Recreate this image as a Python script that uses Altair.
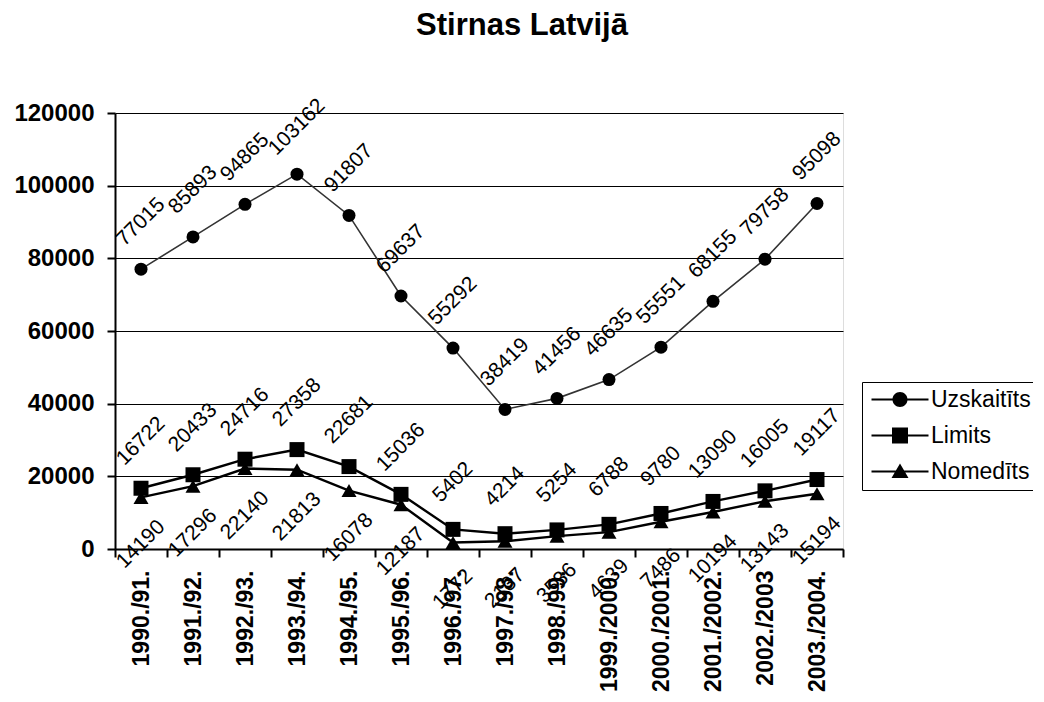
import altair as alt
import pandas as pd

seasons = ["1990./91.", "1991./92.", "1992./93.", "1993./94.", "1994./95.",
           "1995./96.", "1996./97.", "1997./98.", "1998./99.", "1999./2000.",
           "2000./2001.", "2001./2002.", "2002./2003", "2003./2004."]
uzskaitits = [77015, 85893, 94865, 103162, 91807, 69637, 55292, 38419,
              41456, 46635, 55551, 68155, 79758, 95098]
limits = [16722, 20433, 24716, 27358, 22681, 15036, 5402, 4214,
          5254, 6788, 9780, 13090, 16005, 19117]
nomedits = [14190, 17296, 22140, 21813, 16078, 12187, 1772, 2137,
            3536, 4639, 7486, 10194, 13143, 15194]
series_names = ["Uzskaitīts", "Limits", "Nomedīts"]
y_ticks = [0, 20000, 40000, 60000, 80000, 100000, 120000]

rows = []
for name, vals in zip(series_names, [uzskaitits, limits, nomedits]):
    for s, v in zip(seasons, vals):
        rows.append({"season": s, "value": v, "series": name})
df = pd.DataFrame(rows)

FONT = "Liberation Sans"

x_enc = alt.X("season:N", sort=seasons, bandPosition=0.5,
              scale=alt.Scale(type="band", paddingInner=0, paddingOuter=0),
              axis=alt.Axis(title=None, labelAngle=270, labelFont=FONT,
                            labelFontSize=23, labelFontWeight="bold",
                            labelColor="black", labelPadding=13,
                            tickBand="extent", tickSize=8, tickColor="black",
                            tickWidth=2, domainColor="black", domainWidth=2,
                            grid=False, labelOverlap=False))
y_enc = alt.Y("value:Q", scale=alt.Scale(domain=[0, 120000], nice=False),
              axis=alt.Axis(title=None, values=y_ticks, format="d",
                            labelFont=FONT, labelFontSize=24,
                            labelFontWeight="bold", labelColor="black",
                            labelPadding=13, tickSize=8, tickColor="black",
                            tickWidth=2, domainColor="black", domainWidth=2,
                            grid=True, gridColor="black", gridWidth=1))

base = alt.Chart(df).encode(x=x_enc, y=y_enc)

lines = base.mark_line().encode(
    detail="series:N",
    color=alt.condition("datum.series == 'Uzskaitīts'", alt.value("#333333"), alt.value("black")),
    strokeWidth=alt.condition("datum.series == 'Uzskaitīts'", alt.value(1.6), alt.value(2.4)),
)

points = base.mark_point(filled=True, opacity=1, color="black").encode(
    shape=alt.Shape("series:N",
                    scale=alt.Scale(domain=series_names,
                                    range=["circle", "square", "triangle-up"]),
                    legend=None),
    size=alt.condition("datum.series == 'Uzskaitīts'", alt.value(169), alt.value(225)),
)

labels_up = base.transform_filter("datum.series != 'Nomedīts'").mark_text(
    angle=315, radius=47, theta=0, align="center", baseline="middle",
    font=FONT, fontSize=21, color="black"
).encode(text=alt.Text("value:Q", format="d"))

labels_down = base.transform_filter("datum.series == 'Nomedīts'").mark_text(
    angle=315, radius=47, theta=3.14159, align="center", baseline="middle",
    font=FONT, fontSize=21, color="black"
).encode(text=alt.Text("value:Q", format="d"))

# legend symbols: a line with the marker in its middle (unit = 10 px)
seg = "M-0.8,-0.1H4.9V0.1H-0.8Z"
legend_paths = [
    seg + " M1.3,0A0.75,0.75 0 1,1 2.8,0A0.75,0.75 0 1,1 1.3,0Z",
    seg + " M1.25,-0.8H2.85V0.8H1.25Z",
    seg + " M2.05,-0.8L2.9,0.65H1.2Z",
]

legend_layer = base.transform_filter("false").mark_point(
    filled=True, color="black", opacity=1
).encode(
    shape=alt.Shape("series:N",
                    scale=alt.Scale(domain=series_names, range=legend_paths),
                    legend=alt.Legend(title=None, orient="none", legendX=747,
                                      legendY=269, strokeColor="black",
                                      fillColor="white", padding=6,
                                      labelFont=FONT, labelFontSize=23,
                                      labelColor="black", labelOffset=40,
                                      symbolSize=400, symbolStrokeWidth=0,
                                      symbolFillColor="black",
                                      symbolOpacity=1, rowPadding=12)),
)

chart = alt.layer(lines, points, labels_up, labels_down, legend_layer).resolve_scale(
    shape="independent"
).properties(
    width=728, height=436,
    title=alt.TitleParams("Stirnas Latvijā", font=FONT, fontSize=31,
                          fontWeight="bold", color="black", anchor="middle",
                          frame="group", dx=43, offset=53),
    autosize=alt.AutoSizeParams(type="none"),
    padding={"left": 107, "top": 105, "right": 190, "bottom": 145},
).configure_view(stroke=None).configure(background="white")

chart.save("out.html", embed_options={"renderer": "svg", "actions": False})
